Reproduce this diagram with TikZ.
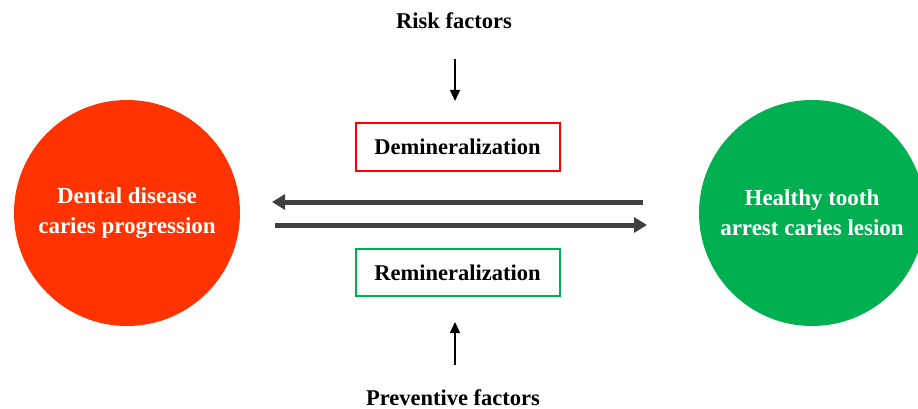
\documentclass[tikz,border=0pt]{standalone}
\usepackage{fontspec}
\setmainfont{Liberation Serif}
\usetikzlibrary{arrows.meta}
\definecolor{cred}{HTML}{FF3300}
\definecolor{cgreen}{HTML}{00B050}
\definecolor{bred}{HTML}{FF0000}
\definecolor{agray}{HTML}{404040}
\tikzset{
  lbl/.style={font=\fontsize{22.5}{30}\selectfont\bfseries, align=center, inner sep=0pt},
  circ/.style={circle, minimum size=226pt, inner sep=0pt, text=white, font=\fontsize{23}{30}\selectfont\bfseries, align=center},
  procbox/.style={draw, line width=2pt, minimum width=204pt, minimum height=47pt, inner sep=0pt, font=\fontsize{22.5}{30}\selectfont\bfseries},
  bigarrow/.style={draw=agray, line width=5pt, -{Triangle[length=13pt,width=15pt]}},
  smallarrow/.style={draw=black, line width=1.5pt, -{Triangle[length=11pt,width=10pt]}},
}
\begin{document}
\begin{tikzpicture}[x=1pt, y=-1pt]
\clip (0,0) rectangle (918,409);
\fill[white] (0,0) rectangle (918,409);
\node[circ, fill=cred] (left) at (127,213) {Dental disease\\caries progression};
\node[circ, fill=cgreen] (right) at (812,213) {Healthy tooth\\arrest caries lesion};
\node[procbox, draw=bred] (demin) at (457.5,147) {Demineralization\hspace{4pt}};
\node[procbox, draw=cgreen] (remin) at (457.5,272.5) {Remineralization\hspace{4pt}};
\node[lbl] (risk) at (454,21) {Risk factors};
\node[lbl, anchor=base] (prev) at (453,405) {Preventive factors};
\coordinate (t1) at (643,202);
\coordinate (t2) at (272,202);
\coordinate (b1) at (275,225);
\coordinate (b2) at (647,225);
\draw[bigarrow] (t1) -- (t2);
\draw[bigarrow] (b1) -- (b2);
\coordinate (r1) at (455,59);
\coordinate (r2) at (455,101);
\coordinate (p1) at (455,365);
\coordinate (p2) at (455,322);
\draw[smallarrow] (r1) -- (r2);
\draw[smallarrow] (p1) -- (p2);
\end{tikzpicture}
\end{document}
